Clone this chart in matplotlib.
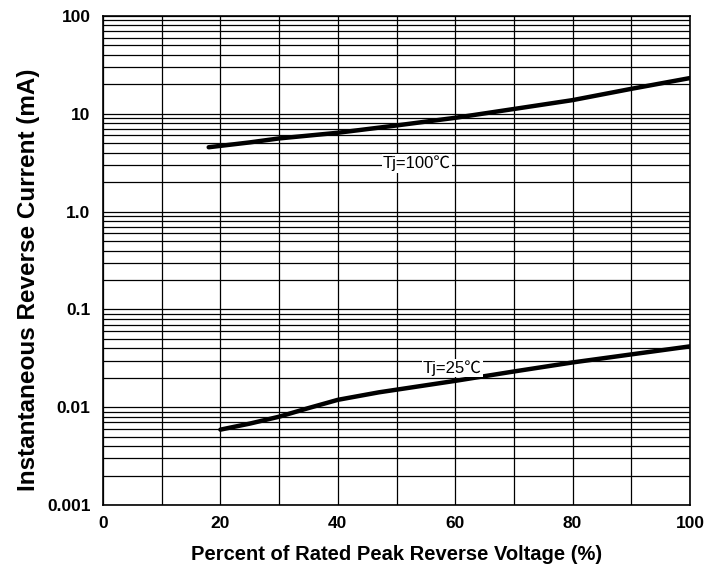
import numpy as np
import matplotlib.pyplot as plt
from matplotlib.ticker import LogLocator, FixedLocator, NullFormatter

plt.rcParams['font.family'] = ['Liberation Sans', 'DejaVu Sans']

# ==== data ====
volt_100 = [18, 25, 30, 40, 50, 60, 70, 80, 90, 100]
curr_100 = [4.55, 5.1, 5.6, 6.4, 7.6, 9.1, 11.2, 13.8, 18.0, 23.2]

volt_25 = [20, 25, 30, 35, 40, 47, 60, 70, 80, 100]
curr_25 = [0.0059, 0.0068, 0.0080, 0.0098, 0.0119, 0.0142, 0.0186, 0.0232, 0.0287, 0.0419]

y_ticks = [0.001, 0.01, 0.1, 1.0, 10, 100]
y_labels = ['0.001', '0.01', '0.1', '1.0', '10', '100']
x_ticks = [0, 20, 40, 60, 80, 100]

fig = plt.figure(figsize=(7.16, 5.67), dpi=100)
ax = fig.add_axes([0.1439, 0.1093, 0.8198, 0.8625])

ax.set_yscale('log')
ax.set_xlim(0, 100)
ax.set_ylim(0.001, 100)

# grid: every 10 % vertically, every minor log step horizontally
ax.xaxis.set_minor_locator(FixedLocator(np.arange(10, 100, 10)))
ax.yaxis.set_minor_locator(LogLocator(base=10, subs=np.arange(2, 10)))
ax.yaxis.set_minor_formatter(NullFormatter())
ax.grid(which='both', axis='both', color='black', linewidth=0.9)
ax.set_axisbelow(True)

ax.plot(volt_100, curr_100, color='black', linewidth=3.2, solid_capstyle='round')
ax.plot(volt_25, curr_25, color='black', linewidth=3.2, solid_capstyle='round')

lbl_font = ['Liberation Sans', 'Noto Sans CJK SC']
ax.text(53.5, 3.1, 'Tj=100℃', fontsize=12, ha='center', va='center', family=lbl_font,
        bbox=dict(facecolor='white', edgecolor='none', pad=1))
ax.text(59.5, 0.025, 'Tj=25℃', fontsize=12, ha='center', va='center', family=lbl_font,
        bbox=dict(facecolor='white', edgecolor='none', pad=1))

ax.set_yticks(y_ticks)
ax.set_yticklabels(y_labels, fontsize=12.5, fontweight='bold')
ax.set_xticks(x_ticks)
ax.set_xticklabels([str(v) for v in x_ticks], fontsize=12.5, fontweight='bold')
ax.tick_params(which='both', length=0)
ax.tick_params(axis='x', pad=8)
ax.tick_params(axis='y', pad=9)

for s in ax.spines.values():
    s.set_linewidth(1.2)

ax.set_xlabel('Percent of Rated Peak Reverse Voltage (%)', fontsize=14.5,
              fontweight='bold', labelpad=10)
ax.set_ylabel('Instantaneous Reverse Current (mA)', fontsize=17.5, fontweight='bold')
ax.yaxis.set_label_coords(-0.108, 0.46)

fig.savefig('out.png', dpi=100)
